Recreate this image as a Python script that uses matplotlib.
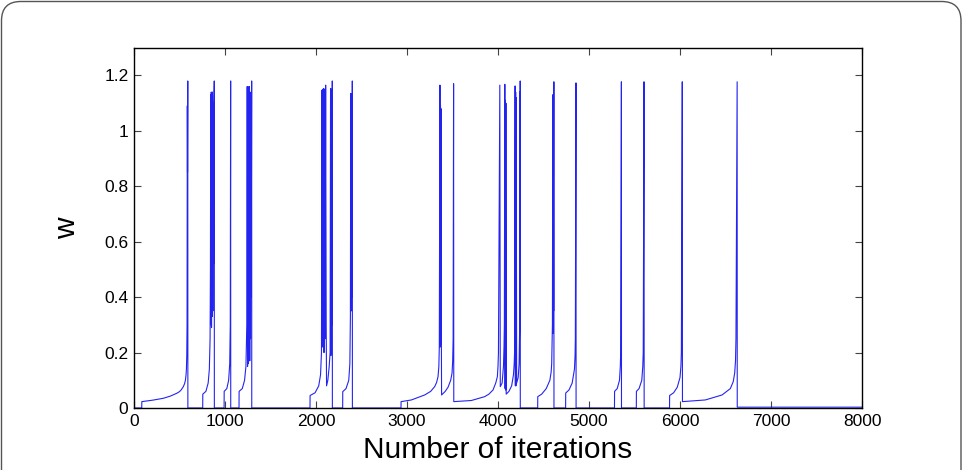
import matplotlib
matplotlib.use("Agg")
import matplotlib.pyplot as plt
from matplotlib.patches import FancyBboxPatch

# w against iteration count, vertices
iters = [
    0, 5, 85,
    # burst 1
    86, 200, 322, 400, 469, 500, 520, 542, 556, 565, 572, 576, 580, 583, 586, 588, 591, 592,
    # burst 2
    755, 756, 790, 815, 828, 836, 840, 843, 846, 849, 852, 855, 858, 862, 866,
    870, 874, 878, 882, 883,
    # burst 3
    990, 991, 1020, 1040, 1052, 1058, 1062, 1063,
    # burst 4
    1154, 1155, 1190, 1215, 1230, 1240, 1244, 1248, 1252, 1256, 1260, 1264,
    1268, 1272, 1276, 1280, 1284, 1288, 1293, 1294,
    # burst 5
    1934, 1935, 1990, 2030, 2050, 2060, 2066, 2070, 2074, 2078, 2084, 2088,
    2094, 2100, 2106, 2112, 2116, 2130, 2145, 2155, 2160, 2165, 2170, 2174,
    2179, 2180,
    # burst 6
    2293, 2294, 2330, 2360, 2372, 2378, 2382, 2386, 2390, 2394, 2399, 2400,
    # burst 7
    2934, 2935, 3048, 3194, 3260, 3304, 3325, 3341, 3350, 3355, 3362, 3365, 3368, 3371,
    3374, 3377, 3380, 3420, 3451, 3480, 3495, 3502, 3507, 3512, 3514, 3707, 3854,
    3900, 3945, 3975, 3993, 4000, 4005, 4010, 4020, 4025, 4045, 4060, 4066, 4070, 4075,
    4078, 4081, 4084, 4087, 4090, 4120, 4150, 4170, 4178, 4182, 4188, 4191, 4194,
    4197, 4200, 4205, 4222, 4232, 4238, 4240, 4242, 4244, 4245,
    # burst 8
    4436, 4437, 4480, 4530, 4570, 4584, 4590, 4598, 4602, 4605, 4608, 4611, 4614, 4615,
    # burst 9
    4743, 4744, 4780, 4815, 4840, 4847, 4850, 4857, 4858,
    # burst 10
    5280, 5281, 5310, 5335, 5344, 5348, 5356, 5357,
    # burst 11
    5520, 5521, 5550, 5580, 5591, 5596, 5605, 5606,
    # burst 12
    5885, 5886, 5930, 5970, 6000, 6010, 6015, 6025, 6027, 6278, 6462, 6553, 6585, 6601,
    6610, 6615, 6628, 6629, 8000,
]
w_vals = [
    1.18, 0.0, 0.0,
    0.023, 0.028, 0.035, 0.043, 0.053, 0.059, 0.066, 0.077, 0.088, 0.10, 0.12, 0.14, 0.19, 0.30, 1.09, 0.85, 1.18, 0.0,
    0.0, 0.05, 0.06, 0.09, 0.14, 0.25, 0.50, 1.13, 0.30, 1.14, 0.29, 1.12, 0.33, 1.14, 0.35,
    1.10, 0.52, 1.10, 1.18, 0.0,
    0.0, 0.06, 0.07, 0.10, 0.16, 0.30, 1.18, 0.0,
    0.0, 0.06, 0.07, 0.10, 0.15, 0.30, 1.16, 0.15, 1.16, 0.16, 1.15, 0.20,
    1.16, 0.17, 1.14, 0.25, 1.12, 0.40, 1.18, 0.0,
    0.0, 0.045, 0.055, 0.08, 0.12, 0.20, 1.147, 0.22, 1.15, 0.24, 1.153, 0.20,
    1.15, 0.25, 1.165, 0.30, 0.08, 0.10, 0.15, 0.20, 1.153, 0.19, 1.15, 0.30,
    1.18, 0.0,
    0.0, 0.059, 0.07, 0.10, 0.16, 0.33, 1.135, 0.35, 1.13, 0.40, 1.18, 0.0,
    0.0, 0.023, 0.029, 0.047, 0.06, 0.077, 0.092, 0.113, 0.15, 0.22, 1.165, 0.22, 1.09, 0.23,
    1.08, 0.30, 0.047, 0.06, 0.075, 0.10, 0.126, 0.17, 0.25, 1.17, 0.023, 0.027, 0.041,
    0.05, 0.065, 0.09, 0.113, 0.15, 0.20, 0.50, 1.165, 0.077, 0.09, 0.15, 0.22, 0.30, 1.168,
    0.07, 1.11, 0.065, 1.10, 0.05, 0.06, 0.08, 0.12, 0.16, 0.20, 1.162, 0.08, 1.14,
    0.08, 1.12, 0.09, 0.11, 0.16, 0.29, 1.14, 0.30, 1.18, 0.0,
    0.0, 0.041, 0.05, 0.07, 0.10, 0.13, 0.16, 0.30, 1.13, 0.27, 1.13, 0.35, 1.177, 0.0,
    0.0, 0.054, 0.065, 0.09, 0.14, 0.19, 0.25, 1.173, 0.0,
    0.0, 0.06, 0.07, 0.10, 0.15, 0.20, 1.177, 0.0,
    0.0, 0.06, 0.07, 0.10, 0.15, 0.20, 1.177, 0.0,
    0.0, 0.045, 0.055, 0.075, 0.11, 0.15, 0.20, 1.177, 0.023, 0.029, 0.047, 0.07, 0.095, 0.126,
    0.17, 0.25, 1.177, 0.003, 0.003,
]

x_ticks = [0, 1000, 2000, 3000, 4000, 5000, 6000, 7000, 8000]
y_ticks = [0, 0.2, 0.4, 0.6, 0.8, 1, 1.2]
y_tick_labels = ['0', '0.2', '0.4', '0.6', '0.8', '1', '1.2']

plt.rcParams['font.family'] = ['Liberation Sans', 'DejaVu Sans']

fig = plt.figure(figsize=(9.63, 4.70), dpi=100)

# rounded frame around the whole panel
frame = FancyBboxPatch((1.5 / 963, -0.05), 959.5 / 963, 1.0 - 1.5 / 470 + 0.05,
                       boxstyle="round,pad=0,rounding_size=0.02",
                       transform=fig.transFigure, fill=False,
                       edgecolor='#555555', linewidth=1.0, mutation_aspect=2.05)
fig.patches.append(frame)

ax = fig.add_axes([134 / 963, 1 - 408 / 470, 728 / 963, (408 - 47.7) / 470])
ax.plot(iters, w_vals, color='#2424f0', linewidth=0.8)

ax.set_xlim(0, 8000)
ax.set_ylim(0, 1.3)
ax.set_xticks(x_ticks)
ax.set_xticklabels([str(t) for t in x_ticks])
ax.set_yticks(y_ticks)
ax.set_yticklabels(y_tick_labels)

ax.tick_params(direction='in', length=5, width=0.8, color='#444444',
               top=True, right=True, labelsize=12.5, pad=4)
for s in ax.spines.values():
    s.set_linewidth(1.0)
    s.set_color('black')

ax.set_xlabel('Number of iterations', fontsize=21.5, labelpad=5)
ax.set_ylabel('w', fontsize=21.5, labelpad=17)

fig.savefig('out.png', dpi=100)
